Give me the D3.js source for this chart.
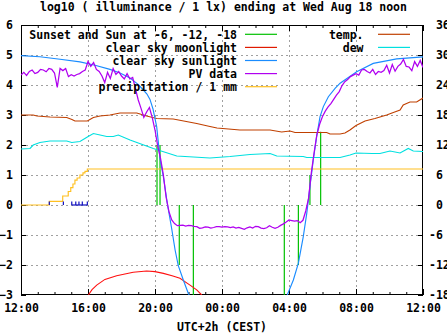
<!DOCTYPE html>
<html><head><meta charset="utf-8">
<script src="https://cdn.jsdelivr.net/npm/d3@7"></script>
<style>
body{margin:0;background:#fff;}
svg{display:block;font-family:"DejaVu Sans Mono","Liberation Mono",monospace;font-weight:bold;font-size:11.5px;}
</style></head><body><svg id="chart" width="447" height="335"></svg>
<script>
// Hours are counted from Tue Aug 17 00:00 local time (UTC+2), so 36 = Wed 12:00.
const titleText = "log10 ( illuminance / 1 lx) ending at Wed Aug 18 noon";
const xTitle = "UTC+2h (CEST)";
const xLabelHours = [12, 16, 20, 24, 28, 32, 36];
const yLeftTicks = [-3, -2, -1, 0, 1, 2, 3, 4, 5, 6];
const yRightTicks = [-18, -12, -6, 0, 6, 12, 18, 24, 30, 36];

// Sunset / sunrise and the sun at -6, -12, -18 degrees: [hour, marker level]
const sunEvents = [[20.12, 2.0], [20.30, 2.0], [21.45, -2.0], [22.29, -3.0],
                   [27.72, -3.0], [28.56, -2.0], [29.25, 1.0], [29.89, 2.44]];

// Clear-sky moonlight, log10 lx
const moonlight = [[16.02, -3.0], [16.24, -2.82], [16.52, -2.67], [17.01, -2.48], [17.71, -2.36],
  [18.70, -2.24], [19.50, -2.20], [20.00, -2.22], [20.50, -2.28], [21.02, -2.36], [21.49, -2.44],
  [22.09, -2.67], [22.49, -2.83], [22.79, -3.0]];

// Clear-sky sunlight, log10 lx (evening and morning)
const sunEvening = [[12.00, 4.98], [13.13, 4.94], [14.33, 4.86], [15.52, 4.77], [16.42, 4.66],
  [17.31, 4.52], [17.91, 4.40], [18.51, 4.23], [18.99, 4.02], [19.28, 3.85], [19.52, 3.70],
  [19.70, 3.52], [19.88, 3.20], [20.10, 2.61], [20.30, 1.55], [20.50, 0.94], [20.75, 0.0],
  [21.00, -0.80], [21.20, -1.50], [21.39, -2.02], [21.69, -2.50], [21.99, -2.95], [22.09, -3.05]];
const sunMorning = [[27.86, -3.05], [28.26, -2.50], [28.56, -1.94], [28.85, -1.06], [29.06, -0.28],
  [29.25, 0.61], [29.45, 1.50], [29.65, 2.28], [29.85, 2.94], [30.05, 3.28], [30.35, 3.61],
  [30.75, 3.89], [31.05, 4.06], [32.04, 4.44], [33.03, 4.72], [34.43, 4.87], [36.00, 4.94]];

// PV sensor reading, log10 lx, one value every 10 minutes from 12:00
const pvStartHour = 12;
const pvStepMinutes = 10;
const pvValues = [4.33,4.42,4.32,4.45,4.50,4.38,4.42,4.52,4.50,4.44,
  4.55,4.52,4.40,3.92,4.55,4.48,4.55,4.28,4.34,4.30,
  4.35,4.38,4.45,4.50,4.78,4.62,4.75,4.52,4.45,4.30,
  4.08,4.42,4.22,4.55,4.35,4.45,4.30,4.20,4.38,4.20,
  4.25,3.88,3.50,3.22,2.92,3.10,3.25,2.92,2.50,1.95,
  1.55,1.00,0.25,-0.22,-0.50,-0.62,-0.69,-0.68,-0.67,-0.70,
  -0.68,-0.69,-0.71,-0.72,-0.78,-0.76,-0.73,-0.74,-0.77,-0.75,
  -0.72,-0.72,-0.74,-0.72,-0.73,-0.75,-0.73,-0.77,-0.75,-0.78,
  -0.81,-0.76,-0.73,-0.77,-0.71,-0.72,-0.77,-0.79,-0.76,-0.69,
  -0.74,-0.78,-0.74,-0.68,-0.63,-0.57,-0.50,-0.52,-0.54,-0.52,
  -0.59,-0.51,-0.20,0.22,1.08,1.75,2.35,2.70,2.95,3.13,
  3.27,3.38,3.52,3.66,3.78,3.98,4.11,4.18,4.28,4.33,
  4.38,4.33,4.50,4.52,4.45,4.40,4.52,4.35,4.45,4.42,
  4.48,4.66,4.40,4.68,4.46,4.62,4.70,4.85,4.62,4.60,
  4.48,4.78,4.62,4.82,4.58];

// Accumulated precipitation in mm (step after each reading)
const precipitation = [[12.00, 0.0], [13.69, 0.12], [14.49, 0.30], [14.82, 0.45], [14.97, 0.58],
  [15.10, 0.70], [15.22, 0.83], [15.35, 0.90], [15.52, 1.00], [15.70, 1.07], [15.82, 1.12],
  [15.96, 1.20], [36.00, 1.20]];
// Rain gauge tips: [hour, height]
const rainTips = [[13.69, 0.12], [14.53, 0.12], [15.03, 0.12], [15.27, 0.12], [15.46, 0.12],
  [15.66, 0.12], [15.96, 0.12]];
const rainRunStart = 15.03, rainRunEnd = 15.96;

// Temperature and dew point, deg C (right axis)
const temperature = [[12.00, 18.0], [12.72, 18.0], [12.96, 17.8], [13.73, 17.6], [14.73, 17.5],
  [15.04, 17.1], [15.22, 16.8], [15.96, 16.8], [16.32, 17.5], [16.72, 17.8], [17.31, 18.0],
  [17.91, 18.4], [18.91, 18.4], [19.50, 17.8], [20.10, 17.3], [21.09, 17.2], [22.49, 16.3],
  [23.28, 15.7], [23.70, 15.4], [25.07, 15.0], [26.87, 15.0], [27.56, 14.6], [28.06, 14.8],
  [28.36, 14.5], [30.25, 14.5], [30.45, 14.2], [31.05, 14.2], [31.34, 14.4], [31.64, 15.0],
  [32.00, 15.9], [32.54, 16.8], [33.13, 17.3], [33.83, 18.0], [34.23, 18.5], [34.63, 19.0],
  [34.82, 20.0], [35.22, 20.6], [35.62, 20.6], [36.00, 21.4]];
const dewPoint = [[12.00, 11.2], [12.54, 11.3], [12.73, 12.0], [13.13, 12.5], [13.73, 12.8],
  [14.73, 12.8], [15.03, 12.5], [15.52, 12.7], [15.96, 13.6], [16.32, 14.3], [16.72, 14.0],
  [17.12, 13.7], [17.51, 13.7], [17.81, 14.0], [18.51, 13.0], [19.90, 11.3], [21.30, 9.8],
  [23.28, 9.4], [24.48, 9.7], [25.67, 10.1], [26.87, 10.3], [27.27, 9.8], [28.85, 9.7],
  [29.06, 9.5], [31.05, 9.5], [31.64, 10.0], [32.00, 10.4], [32.96, 10.3], [33.43, 10.3],
  [34.03, 10.8], [34.63, 10.4], [35.12, 11.3], [35.42, 10.8], [36.00, 10.7]];

const leftKey = [
  {label: "Sunset and Sun at -6, -12, -18", color: "#00c000"},
  {label: "clear sky moonlight", color: "#e01a00"},
  {label: "clear sky sunlight", color: "#1a8cff"},
  {label: "PV data", color: "#b000f0"},
  {label: "precipitation / 1 mm", color: "#ffc020"}];
const rightKey = [
  {label: "temp.", color: "#c04000"},
  {label: "dew", color: "#00e0e0"}];

const W = 447, H = 335;
const m = {top: 25, right: 24, bottom: 40, left: 21};
const svg = d3.select("#chart");

const x = d3.scaleLinear().domain([12, 36]).range([m.left, W - m.right]);
const y = d3.scaleLinear().domain([-3, 6]).range([H - m.bottom, m.top]);
const y2 = d3.scaleLinear().domain([-18, 36]).range([H - m.bottom, m.top]);

svg.append("defs").append("clipPath").attr("id", "plot")
  .append("rect").attr("x", m.left).attr("y", m.top)
  .attr("width", W - m.left - m.right).attr("height", H - m.top - m.bottom);

// grid
const grid = svg.append("g").attr("stroke", "#a0a0a0").attr("stroke-dasharray", "2,3").attr("stroke-width", 1);
grid.selectAll("line.h").data(yLeftTicks.filter(v => v > -3 && v < 6)).join("line")
  .attr("x1", m.left).attr("x2", W - m.right)
  .attr("y1", d => Math.round(y(d)) + 0.5).attr("y2", d => Math.round(y(d)) + 0.5);
grid.selectAll("line.v").data(xLabelHours.filter(h => h > 12 && h < 36)).join("line")
  .attr("y1", m.top).attr("y2", H - m.bottom)
  .attr("x1", d => Math.round(x(d)) + 0.5).attr("x2", d => Math.round(x(d)) + 0.5);

// axes
const hourly = d3.range(12, 37);
const fmtHour = h => String(h % 24).padStart(2, "0") + ":00";
function styleAxis(g) {
  g.select(".domain").remove();
  g.selectAll("text").attr("fill", "#000").style("font-family", null).style("font-size", null);
  g.selectAll("line").attr("stroke", "#000");
}
svg.append("g").attr("transform", `translate(0,${H - m.bottom})`)
  .call(d3.axisBottom(x).tickValues(hourly).tickSize(-3).tickFormat(() => "")).call(styleAxis);
svg.append("g").attr("transform", `translate(0,${H - m.bottom})`)
  .call(d3.axisBottom(x).tickValues(xLabelHours).tickSize(-6).tickPadding(9).tickFormat(fmtHour))
  .call(styleAxis).attr("font-size", null).attr("font-family", null);
svg.append("g").attr("transform", `translate(0,${m.top})`)
  .call(d3.axisTop(x).tickValues(hourly).tickSize(-3).tickFormat(() => "")).call(styleAxis);
svg.append("g").attr("transform", `translate(0,${m.top})`)
  .call(d3.axisTop(x).tickValues(xLabelHours).tickSize(-6).tickFormat(() => "")).call(styleAxis);
svg.append("g").attr("transform", `translate(${m.left},0)`)
  .call(d3.axisLeft(y).tickValues(yLeftTicks).tickSize(-5).tickPadding(8).tickFormat(d3.format("d")))
  .call(styleAxis).attr("font-size", null).attr("font-family", null);
svg.append("g").attr("transform", `translate(${W - m.right},0)`)
  .call(d3.axisRight(y2).tickValues(yRightTicks).tickSize(-5).tickPadding(6)
    .tickFormat(d => (d >= 0 ? "\u00a0" : "") + d))
  .call(styleAxis).attr("font-size", null).attr("font-family", null)
  .attr("text-anchor", "start");
svg.selectAll("g.tick text").attr("font-weight", "bold");

// frame
svg.append("rect").attr("x", m.left + 0.5).attr("y", m.top + 0.5)
  .attr("width", W - m.left - m.right - 1).attr("height", H - m.top - m.bottom - 1)
  .attr("fill", "none").attr("stroke", "#000").attr("stroke-width", 1);

const plot = svg.append("g").attr("clip-path", "url(#plot)");
const line = (yy) => d3.line().x(d => x(d[0])).y(d => yy(d[1]));

// sun event markers
plot.append("g").attr("stroke", leftKey[0].color).attr("stroke-width", 1.2)
  .selectAll("line").data(sunEvents).join("line")
  .attr("x1", d => x(d[0])).attr("x2", d => x(d[0]))
  .attr("y1", y(0)).attr("y2", d => y(d[1]));

plot.append("path").datum(moonlight).attr("d", line(y))
  .attr("fill", "none").attr("stroke", "#ff1010").attr("stroke-width", 1.1);

plot.append("path").datum(temperature).attr("d", line(y2))
  .attr("fill", "none").attr("stroke", rightKey[0].color).attr("stroke-width", 1.15);
plot.append("path").datum(dewPoint).attr("d", line(y2))
  .attr("fill", "none").attr("stroke", rightKey[1].color).attr("stroke-width", 1.15);

plot.append("path").datum(precipitation)
  .attr("d", d3.line().curve(d3.curveStepAfter).x(d => x(d[0])).y(d => y(d[1])))
  .attr("fill", "none").attr("stroke", leftKey[4].color).attr("stroke-width", 1.15);
const rain = plot.append("g").attr("stroke", "#1010c0").attr("stroke-width", 1.2);
rain.selectAll("line").data(rainTips).join("line")
  .attr("x1", d => x(d[0])).attr("x2", d => x(d[0]))
  .attr("y1", y(0)).attr("y2", d => y(d[1]));
rain.append("line").attr("x1", x(rainRunStart)).attr("x2", x(rainRunEnd))
  .attr("y1", y(0)).attr("y2", y(0));

[sunEvening, sunMorning].forEach(seg => plot.append("path").datum(seg).attr("d", line(y))
  .attr("fill", "none").attr("stroke", leftKey[2].color).attr("stroke-width", 1.15));

const pv = pvValues.map((v, i) => [pvStartHour + i * pvStepMinutes / 60, v]);
plot.append("path").datum(pv).attr("d", line(y))
  .attr("fill", "none").attr("stroke", leftKey[3].color).attr("stroke-width", 1.25);

// title
svg.append("text").attr("x", W / 2).attr("y", 10.5).attr("text-anchor", "middle").text(titleText);
svg.append("text").attr("x", x(24)).attr("y", 331).attr("text-anchor", "middle").text(xTitle);

// keys
function drawKey(entries, textRight, lineX1, lineX2) {
  const g = svg.append("g");
  entries.forEach((e, i) => {
    const ly = 34.3 + i * 13.1;
    g.append("text").attr("x", textRight).attr("y", ly + 4.2).attr("text-anchor", "end").text(e.label);
    g.append("line").attr("x1", lineX1).attr("x2", lineX2).attr("y1", ly).attr("y2", ly)
      .attr("stroke", e.color).attr("stroke-width", 1.2);
  });
}
drawKey(leftKey, 237, 245, 277);
drawKey(rightKey, 363.5, 378, 410);
</script></body></html>
